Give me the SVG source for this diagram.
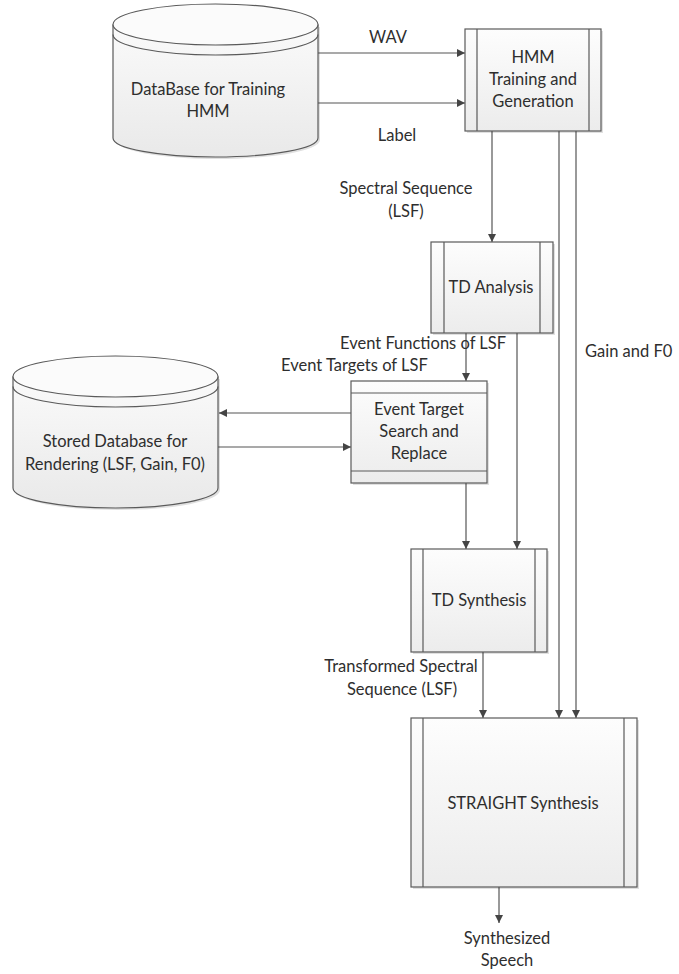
<svg xmlns="http://www.w3.org/2000/svg" width="679" height="974" viewBox="0 0 679 974">
  <style>
    .txt { font-family: Lato, "Liberation Sans", sans-serif; font-size: 16.5px; fill: #2e2e2e; }
    .mid { text-anchor: middle; }
    .box { fill: url(#boxFill); stroke: #5a5a5a; stroke-width: 1.2; }
    .rule { fill: none; stroke: #5a5a5a; stroke-width: 1.2; }
    .cyl { fill: url(#cylFill); stroke: #5a5a5a; stroke-width: 1.2; }
    .cyltop { fill: #fbfbfb; stroke: #5a5a5a; stroke-width: 1.2; }
    .shadow { fill: #000; opacity: 0.12; }
    .edge { fill: none; stroke: #555; stroke-width: 1.2; marker-end: url(#arrow); }
  </style>
  <defs>
    <linearGradient id="boxFill" x1="0" y1="0" x2="0" y2="1">
      <stop offset="0" stop-color="#fdfdfd"/>
      <stop offset="1" stop-color="#ececec"/>
    </linearGradient>
    <linearGradient id="cylFill" x1="0" y1="0" x2="0" y2="1">
      <stop offset="0" stop-color="#fafafa"/>
      <stop offset="1" stop-color="#e9e9e9"/>
    </linearGradient>
    <marker id="arrow" viewBox="0 0 10 10" refX="10" refY="5" markerWidth="8" markerHeight="8" markerUnits="userSpaceOnUse" orient="auto">
      <path d="M0,0 L10,5 L0,10 z" fill="#444"/>
    </marker>
  </defs>

  <rect width="679" height="974" fill="#fff"/>

  <!-- connectors -->
  <g id="connectors">
    <path class="edge" d="M318,53 H465"/>
    <path class="edge" d="M318,103 H465"/>
    <path class="edge" d="M492,131 V242"/>
    <path class="edge" d="M559,131 V718"/>
    <path class="edge" d="M576,131 V718"/>
    <path class="edge" d="M466,333 V381"/>
    <path class="edge" d="M517,333 V549"/>
    <path class="edge" d="M466,483 V549"/>
    <path class="edge" d="M351,413 H219"/>
    <path class="edge" d="M218,447 H351"/>
    <path class="edge" d="M483,652 V718"/>
    <path class="edge" d="M499,887 V923"/>
  </g>

  <!-- connector labels -->
  <g id="labels" class="txt">
    <text x="388" y="43" class="mid">WAV</text>
    <text x="397" y="141" class="mid">Label</text>
    <text x="406" y="194" class="mid">Spectral Sequence</text>
    <text x="406" y="217" class="mid">(LSF)</text>
    <text x="585" y="357">Gain and F0</text>
    <text x="340" y="349">Event Functions of LSF</text>
    <text x="281" y="371">Event Targets of LSF</text>
    <text x="401" y="672" class="mid">Transformed Spectral</text>
    <text x="402" y="695" class="mid">Sequence (LSF)</text>
    <text x="507" y="944" class="mid">Synthesized</text>
    <text x="507" y="966" class="mid">Speech</text>
  </g>

  <!-- training database -->
  <g id="db-training">
    <path class="shadow" d="M115,27 V140 A102.5,19 0 0 0 320,140 V27 z"/>
    <path class="cyl" d="M113,24.5 V138 A102.5,19 0 0 0 318,138 V24.5"/>
    <ellipse class="cyltop" cx="215.5" cy="24.5" rx="102.5" ry="20.5"/>
    <path class="rule" d="M113,34.5 A102.5,20.5 0 0 0 318,34.5"/>
    <text class="txt mid" x="208" y="95">DataBase for Training</text>
    <text class="txt mid" x="208" y="117">HMM</text>
  </g>

  <!-- HMM training -->
  <g id="hmm">
    <rect class="shadow" x="467" y="31" width="136" height="102"/>
    <rect class="box" x="465" y="29" width="136" height="102"/>
    <path class="rule" d="M477,29 V131 M589,29 V131"/>
    <text class="txt mid" x="533" y="63">HMM</text>
    <text class="txt mid" x="533" y="85">Training and</text>
    <text class="txt mid" x="533" y="107">Generation</text>
  </g>

  <!-- TD analysis -->
  <g id="td-analysis">
    <rect class="shadow" x="433" y="244" width="122" height="91"/>
    <rect class="box" x="431" y="242" width="122" height="91"/>
    <path class="rule" d="M444,242 V333 M540,242 V333"/>
    <text class="txt mid" x="491" y="293">TD Analysis</text>
  </g>

  <!-- stored database -->
  <g id="db-stored">
    <path class="shadow" d="M15,379 V490 A102.5,20 0 0 0 220,490 V379 z"/>
    <path class="cyl" d="M13,376.5 V488 A102.5,20 0 0 0 218,488 V376.5"/>
    <ellipse class="cyltop" cx="115.5" cy="376.5" rx="102.5" ry="20.5"/>
    <path class="rule" d="M13,386.5 A102.5,20.5 0 0 0 218,386.5"/>
    <text class="txt mid" x="115" y="447">Stored Database for</text>
    <text class="txt mid" x="115" y="470">Rendering (LSF, Gain, F0)</text>
  </g>

  <!-- event target search -->
  <g id="event-search">
    <rect class="shadow" x="353" y="383" width="136" height="102"/>
    <rect class="box" x="351" y="381" width="136" height="102"/>
    <path class="rule" d="M351,393 H487 M351,471 H487"/>
    <text class="txt mid" x="419" y="415">Event Target</text>
    <text class="txt mid" x="419" y="437">Search and</text>
    <text class="txt mid" x="419" y="459">Replace</text>
  </g>

  <!-- TD synthesis -->
  <g id="td-synthesis">
    <rect class="shadow" x="413" y="551" width="136" height="103"/>
    <rect class="box" x="411" y="549" width="136" height="103"/>
    <path class="rule" d="M423,549 V652 M535,549 V652"/>
    <text class="txt mid" x="479" y="606">TD Synthesis</text>
  </g>

  <!-- STRAIGHT synthesis -->
  <g id="straight">
    <rect class="shadow" x="413" y="720" width="226" height="169"/>
    <rect class="box" x="411" y="718" width="226" height="169"/>
    <path class="rule" d="M423,718 V887 M624,718 V887"/>
    <text class="txt mid" x="523" y="809">STRAIGHT Synthesis</text>
  </g>
</svg>
